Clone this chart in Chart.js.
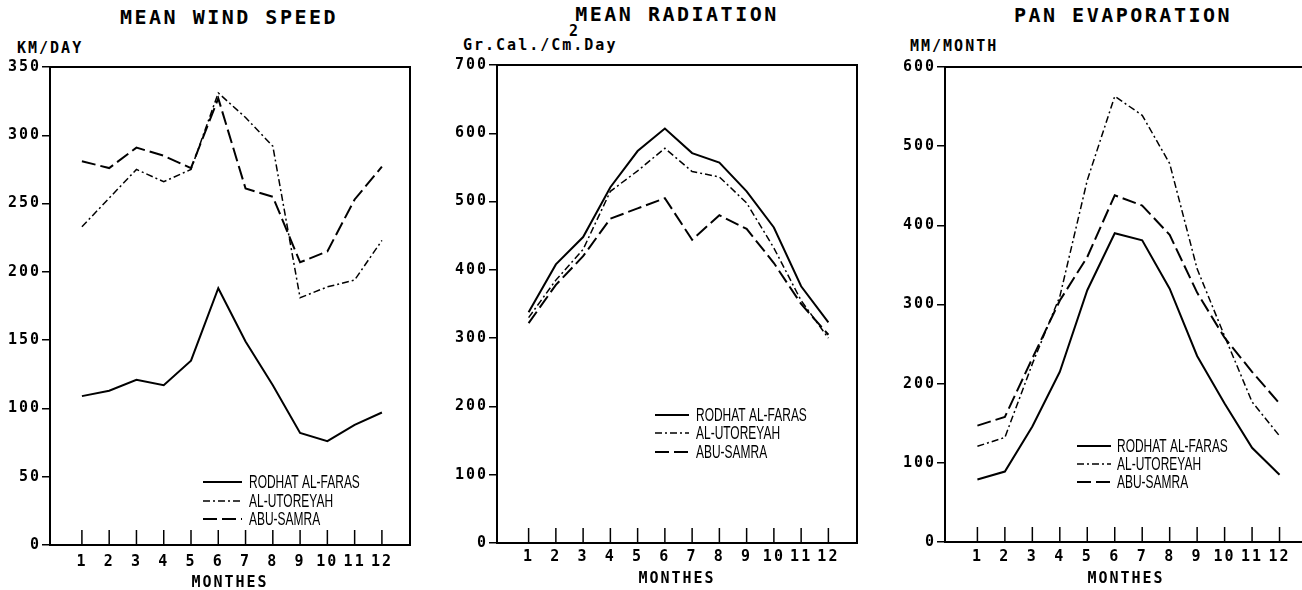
<!DOCTYPE html>
<html>
<head>
<meta charset="utf-8">
<title>Mean Wind Speed, Mean Radiation, Pan Evaporation</title>
<script src="https://cdn.jsdelivr.net/npm/chart.js"></script>
<style>
    html, body {
        margin: 0;
        padding: 0;
        background: #fff;
    }
    body {
        width: 1302px;
        height: 590px;
        overflow: hidden;
        position: relative;
        font-family: "DejaVu Sans Mono", monospace;
        color: #000;
    }
    canvas {
        position: absolute;
        top: 0;
    }
    .title {
        position: absolute;
        font-size: 20px;
        font-weight: bold;
        letter-spacing: 2.5px;
        line-height: 1;
        transform: translate(-50%, -50%);
        white-space: nowrap;
    }
    .unit {
        position: absolute;
        font-size: 15px;
        font-weight: bold;
        letter-spacing: 2px;
        line-height: 1;
        transform: translateY(-50%);
        white-space: nowrap;
    }
</style>
</head>
<body>
    <div class="title" style="left:229px;top:17px">MEAN WIND SPEED</div>
    <div class="title" style="left:677px;top:14px">MEAN RADIATION</div>
    <div class="title" style="left:1123px;top:15px">PAN EVAPORATION</div>

    <div class="unit" style="left:17px;top:48px">KM/DAY</div>
    <div class="unit" style="left:463px;top:45px">Gr.Cal./Cm.Day</div>
    <div class="unit" style="left:569px;top:31px">2</div>
    <div class="unit" style="left:910px;top:46px">MM/MONTH</div>

    <canvas id="wind" width="440" height="590" style="left:0px"></canvas>
    <canvas id="rad" width="440" height="590" style="left:440px"></canvas>
    <canvas id="evap" width="440" height="590" style="left:880px"></canvas>

<script>
    // data
    var months = [1, 2, 3, 4, 5, 6, 7, 8, 9, 10, 11, 12];
    var stations = ['RODHAT AL-FARAS', 'AL-UTOREYAH', 'ABU-SAMRA'];

    var windRodhat   = [109, 113, 121, 117, 135, 188, 149, 117, 82, 76, 88, 97];
    var windUtoreyah = [233, 254, 275, 266, 275, 331, 313, 292, 181, 189, 194, 223];
    var windAbuSamra = [281, 276, 291, 285, 276, 327, 261, 255, 207, 215, 253, 277];

    var radRodhat   = [338, 408, 448, 521, 574, 607, 571, 557, 515, 462, 376, 323];
    var radUtoreyah = [330, 385, 430, 515, 545, 578, 544, 536, 498, 432, 355, 300];
    var radAbuSamra = [322, 378, 420, 475, 490, 505, 444, 480, 460, 410, 350, 305];

    var evapRodhat   = [79, 89, 146, 215, 318, 390, 381, 320, 235, 175, 119, 85];
    var evapUtoreyah = [121, 132, 225, 310, 457, 563, 539, 478, 345, 260, 177, 134];
    var evapAbuSamra = [147, 158, 232, 305, 360, 438, 425, 388, 315, 258, 215, 175];

    var windYTicks = [0, 50, 100, 150, 200, 250, 300, 350];
    var radYTicks  = [0, 100, 200, 300, 400, 500, 600, 700];
    var evapYTicks = [0, 100, 200, 300, 400, 500, 600];

    // solid, dash-dot, long dash
    var lineStyles = [
        { borderDash: [], borderWidth: 2 },
        { borderDash: [7, 3, 2, 3], borderWidth: 1.5 },
        { borderDash: [14, 5], borderWidth: 2 }
    ];

    // box, inner month ticks and the legend inside the plot
    var frame = {
        id: 'frame',
        beforeDraw: function(chart) {
            chart.ctx.letterSpacing = '2px';
        },
        afterDraw: function(chart, args, opts) {
            var ctx = chart.ctx, a = chart.chartArea, xs = chart.scales.x;
            ctx.save();
            ctx.strokeStyle = '#000';
            ctx.fillStyle = '#000';
            ctx.lineWidth = 2;
            ctx.strokeRect(a.left, a.top, a.right - a.left, a.bottom - a.top);

            ctx.lineWidth = 1.5;
            xs.ticks.forEach(function(t) {
                var px = xs.getPixelForValue(t.value);
                ctx.beginPath();
                ctx.moveTo(px, a.bottom);
                ctx.lineTo(px, a.bottom - 15);
                ctx.stroke();
            });

            ctx.letterSpacing = '0px';
            ctx.font = '19px "Liberation Sans", Arial, sans-serif';
            ctx.textBaseline = 'middle';
            chart.data.datasets.forEach(function(ds, i) {
                var y = opts.rows[i];
                ctx.setLineDash(ds.borderDash);
                ctx.lineWidth = ds.borderWidth;
                ctx.beginPath();
                ctx.moveTo(opts.x0, y);
                ctx.lineTo(opts.x1, y);
                ctx.stroke();
                ctx.setLineDash([]);
                ctx.save();
                ctx.translate(opts.tx, y + 1);
                ctx.scale(0.63, 1);
                ctx.fillText(ds.label, 0, 0);
                ctx.restore();
            });
            ctx.restore();
        }
    };

    function makeChart(id, series, yTicks, p) {
        var datasets = series.map(function(values, i) {
            return {
                label: stations[i],
                data: values,
                borderColor: '#000',
                borderWidth: lineStyles[i].borderWidth,
                borderDash: lineStyles[i].borderDash,
                pointRadius: 0,
                tension: 0,
                fill: false
            };
        });
        var tickFont = { family: 'DejaVu Sans Mono', size: 15, weight: 'bold' };
        return new Chart(document.getElementById(id), {
            type: 'line',
            data: { labels: months, datasets: datasets },
            options: {
                responsive: false,
                animation: false,
                layout: { padding: { left: 0, right: p.padRight, top: p.top, bottom: 0 } },
                plugins: {
                    legend: { display: false },
                    tooltip: { enabled: false },
                    frame: p.legend
                },
                scales: {
                    x: {
                        type: 'linear',
                        min: p.xMin,
                        max: p.xMax,
                        afterBuildTicks: function(s) {
                            s.ticks = months.map(function(m) { return { value: m }; });
                        },
                        afterFit: function(s) { s.height = p.xHeight; },
                        grid: { display: false, drawTicks: false },
                        border: { display: false },
                        ticks: {
                            color: '#000',
                            font: tickFont,
                            padding: p.xPad,
                            maxRotation: 0,
                            autoSkip: false
                        },
                        title: {
                            display: true,
                            text: 'MONTHES',
                            color: '#000',
                            font: { family: 'DejaVu Sans Mono', size: 15, weight: 'bold' },
                            padding: { top: 0, bottom: p.titlePad }
                        }
                    },
                    y: {
                        min: yTicks[0],
                        max: yTicks[yTicks.length - 1],
                        afterBuildTicks: function(s) {
                            s.ticks = yTicks.map(function(v) { return { value: v }; });
                        },
                        afterFit: function(s) { s.width = p.yWidth; },
                        grid: {
                            display: true,
                            drawOnChartArea: false,
                            drawTicks: true,
                            tickLength: 8,
                            color: '#000',
                            lineWidth: 1.5
                        },
                        border: { display: false },
                        ticks: {
                            color: '#000',
                            font: tickFont,
                            padding: 1
                        }
                    }
                }
            },
            plugins: [frame]
        });
    }

    makeChart('wind', [windRodhat, windUtoreyah, windAbuSamra], windYTicks, {
        xMin: -0.17, xMax: 13.03, top: 67, padRight: 30, yWidth: 50, xHeight: 45,
        xPad: 8, titlePad: -2,
        legend: { x0: 203, x1: 242, tx: 249, rows: [482, 501, 519] }
    });

    makeChart('rad', [radRodhat, radUtoreyah, radAbuSamra], radYTicks, {
        xMin: -0.16, xMax: 13.05, top: 65, padRight: 23, yWidth: 57, xHeight: 47,
        xPad: 5, titlePad: 2,
        legend: { x0: 215, x1: 249, tx: 256, rows: [415, 433, 452] }
    });

    makeChart('evap', [evapRodhat, evapUtoreyah, evapAbuSamra], evapYTicks, {
        xMin: -0.18, xMax: 13.0, top: 67, padRight: 13, yWidth: 65, xHeight: 48,
        xPad: 6, titlePad: 2,
        legend: { x0: 197, x1: 231, tx: 237, rows: [446, 464, 482] }
    });
</script>
</body>
</html>
